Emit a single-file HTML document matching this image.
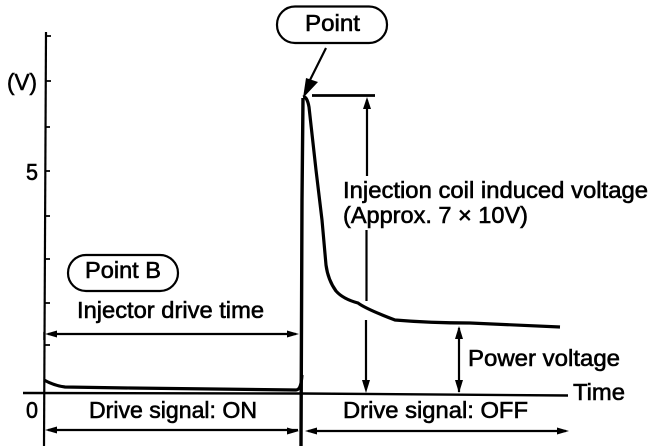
<!DOCTYPE html>
<html>
<head>
<meta charset="utf-8">
<style>
html,body{margin:0;padding:0;background:#fff;width:672px;height:446px;overflow:hidden}
svg{display:block}
text{font-family:"Liberation Sans",sans-serif;font-size:23px;fill:#000;stroke:#000;stroke-width:.6px}
</style>
</head>
<body>
<svg width="672" height="446" viewBox="0 0 672 446" xmlns="http://www.w3.org/2000/svg">
<g fill="none" stroke="#000" stroke-width="2">
  <!-- y axis -->
  <path d="M46 32 L44 446" stroke-width="2.2"/>
  <path d="M46 36H51M46 81H51M46 127H50M45 171H50M45 216H50M45 259H50M45 303H50M45 345H50" stroke-width="1.8"/>
  <!-- time axis -->
  <path d="M23 393 L300 393.500 L568 395.500" stroke-width="2.400"/>
  <!-- spike -->
  <path d="M301 446 L302 200 L303 98" stroke-width="3.400"/>
  <path d="M303 97 Q307 96 309 107 L316 170 L322 220 L326 265 Q328 280 336 291 Q343 299 358 303 Q366 309 395 320 Q430 323 470 323 L560 327" stroke-width="3.200"/>
  <!-- baseline -->
  <path d="M44 380 Q55 386 65 387 L130 388 L296 390 Q301 390 302 375" stroke-width="3.200"/>
  <!-- top level -->
  <path d="M312 95.500 H375" stroke-width="2.800"/>
  <!-- injection arrow -->
  <path d="M367 100 V176 M366.500 230 V301 M366 320 V388" stroke-width="2.200"/>
  <!-- power arrow -->
  <path d="M459 328 V392" stroke-width="2.200"/>
  <!-- horizontal arrows -->
  <path d="M48 334 H296" stroke-width="2.200"/>
  <path d="M48 430 H298 M308 431 H566" stroke-width="2.200"/>
  <path d="M44 332 V340 M44 430 V440" stroke-width="1.500"/>
  <!-- pointer -->
  <path d="M326 48 L310 80" stroke-width="2.200"/>
  <!-- pills -->
  <rect x="277" y="6.500" width="110" height="36.500" rx="18" stroke-width="2.200"/>
  <rect x="68" y="255" width="110" height="36" rx="18" stroke-width="2.200"/>
</g>
<g fill="#000" stroke="none">
  <path d="M303 98 L306 78 L318 82 Z"/>
  <path d="M367 97 L363 109 H371 Z"/>
  <path d="M366 393 L362 380 H370 Z"/>
  <path d="M459 326 L455 339 H463 Z"/>
  <path d="M459 393 L455 380 H463 Z"/>
  <path d="M45 334 L57 330.500 V337.500 Z"/>
  <path d="M299 334 L287 330.500 V337.500 Z"/>
  <path d="M45 430 L57 426.500 V433.500 Z"/>
  <path d="M299 431 L287 427.500 V434.500 Z"/>
  <path d="M305 431 L317 427.500 V434.500 Z"/>
  <path d="M569 431 L557 427.500 V434.500 Z"/>
</g>
<text x="7" y="90" textLength="30" lengthAdjust="spacingAndGlyphs">(V)</text>
<text x="26" y="180" textLength="12" lengthAdjust="spacingAndGlyphs">5</text>
<text x="26" y="418" textLength="12" lengthAdjust="spacingAndGlyphs">0</text>
<text x="305" y="31" textLength="55" lengthAdjust="spacingAndGlyphs">Point</text>
<text x="85" y="278" textLength="76" lengthAdjust="spacingAndGlyphs">Point B</text>
<text x="77" y="318" textLength="187" lengthAdjust="spacingAndGlyphs">Injector drive time</text>
<text x="89" y="418" textLength="168" lengthAdjust="spacingAndGlyphs">Drive signal: ON</text>
<text x="343" y="418" textLength="185" lengthAdjust="spacingAndGlyphs">Drive signal: OFF</text>
<text x="468" y="366" textLength="152" lengthAdjust="spacingAndGlyphs">Power voltage</text>
<text x="573" y="400" textLength="52" lengthAdjust="spacingAndGlyphs">Time</text>
<text x="343" y="198" textLength="305" lengthAdjust="spacingAndGlyphs">Injection coil induced voltage</text>
<text x="343" y="223" textLength="185" lengthAdjust="spacingAndGlyphs">(Approx. 7 × 10V)</text>
</svg>
</body>
</html>
